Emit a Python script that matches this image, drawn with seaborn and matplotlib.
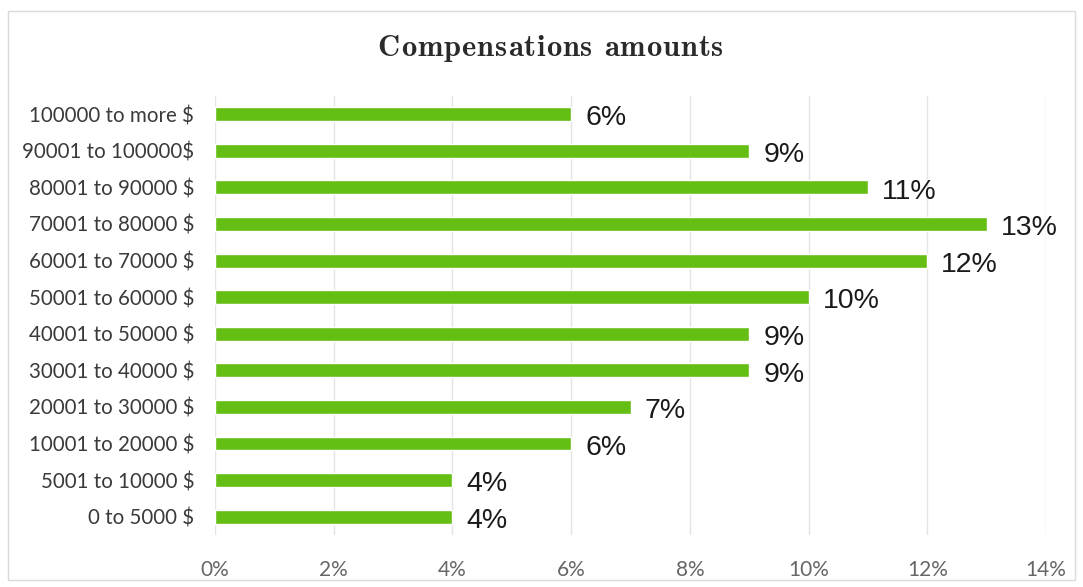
import matplotlib
matplotlib.use("Agg")
import matplotlib.pyplot as plt
from matplotlib.patches import Rectangle
from matplotlib.ticker import PercentFormatter, MultipleLocator
import seaborn as sns
import pandas as pd

# Compensation brackets, listed top to bottom
categories = [
    "100000 to more $",
    "90001 to 100000$",
    "80001 to 90000 $",
    "70001 to 80000 $",
    "60001 to 70000 $",
    "50001 to 60000 $",
    "40001 to 50000 $",
    "30001 to 40000 $",
    "20001 to 30000 $",
    "10001 to 20000 $",
    "5001 to 10000 $",
    "0 to 5000 $",
]
shares = [6, 9, 11, 13, 12, 10, 9, 9, 7, 6, 4, 4]
title = "Compensations amounts"

df = pd.DataFrame({"bracket": categories, "share": shares})

sns.set_theme(style="white")
plt.rcParams["font.family"] = ["Lato", "DejaVu Sans"]

fig = plt.figure(figsize=(10.83, 5.87), dpi=100)
ax = fig.add_axes([0.1985, 0.0886, 0.7675, 0.748])

sns.barplot(data=df, x="share", y="bracket", orient="h", color="#64BE14",
            saturation=1, width=0.38, ax=ax)

ax.set_xlim(0, 14)
ax.set_ylim(len(categories) - 0.5, -0.5)
ax.xaxis.set_major_locator(MultipleLocator(2))
ax.xaxis.set_major_formatter(PercentFormatter(decimals=0))
ax.grid(axis="x", color="#E4E4E4", linewidth=1.0)
ax.set_axisbelow(True)
for s in ax.spines.values():
    s.set_visible(False)
ax.set_xlabel("")
ax.set_ylabel("")
ax.tick_params(axis="x", length=0, pad=18, labelsize=15, labelcolor="#666666")
ax.tick_params(axis="y", length=0, pad=15, labelsize=14.8, labelcolor="#3A3A3A")

# Value labels at the end of each bar
for i, v in enumerate(shares):
    ax.annotate(f"{v}%", xy=(v, i), xytext=(10, -3), textcoords="offset points",
                ha="left", va="center", fontsize=20.5, color="#1A1A1A",
                family=["Liberation Sans", "DejaVu Sans"])

# Letter-spaced serif title
renderer = fig.canvas.get_renderer()
title_kw = dict(fontsize=22, family=["cmb10", "DejaVu Serif"], color="#2A2A2A",
                va="center", ha="left")
tracking = 1.0  # extra pixels between letters
widths = []
for ch in title:
    t = fig.text(0, 0, ch if ch != " " else "n", **title_kw)
    w = t.get_window_extent(renderer).width
    if ch == " ":
        w *= 0.55
    widths.append(w)
    t.remove()
total = sum(widths) + tracking * (len(title) - 1)
fig_w = fig.get_figwidth() * fig.dpi
x_px = 0.5 * (373 + 728) - total / 2
for ch, w in zip(title, widths):
    if ch != " ":
        fig.text(x_px / fig_w, 0.917, ch, **title_kw)
    x_px += w + tracking

# Light frame around the chart area
fig.patches.append(Rectangle((0.007, 0.012), 0.986, 0.97, transform=fig.transFigure,
                             fill=False, edgecolor="#DADADA", linewidth=1.0))

fig.savefig("out.png", dpi=100)
